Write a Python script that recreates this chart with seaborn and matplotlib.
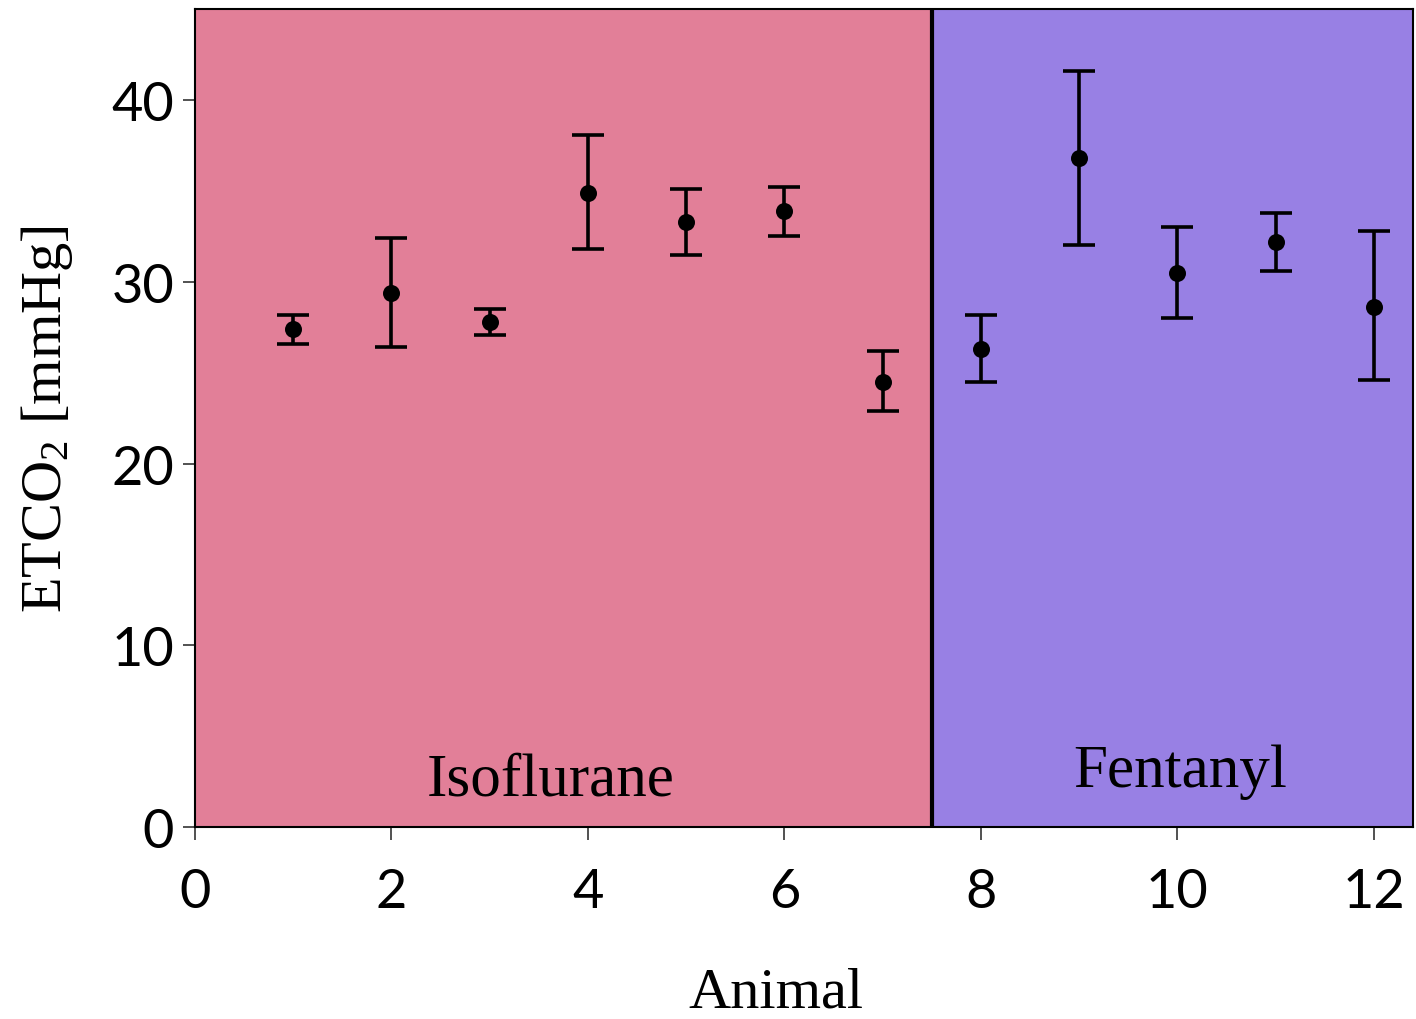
import matplotlib
matplotlib.use("Agg")
import matplotlib.pyplot as plt
import seaborn as sns
import numpy as np
import pandas as pd

animals = [1, 2, 3, 4, 5, 6, 7, 8, 9, 10, 11, 12]
etco2_mean = [27.4, 29.4, 27.8, 34.9, 33.3, 33.9, 24.5, 26.3, 36.8, 30.5, 32.2, 28.6]
etco2_low = [26.6, 26.4, 27.1, 31.8, 31.5, 32.5, 22.9, 24.5, 32.0, 28.0, 30.6, 24.6]
etco2_high = [28.2, 32.4, 28.5, 38.1, 35.1, 35.2, 26.2, 28.2, 41.6, 33.0, 33.8, 32.8]
groups = ["Isoflurane", "Fentanyl"]
group_colors = ["#E27F98", "#9880E4"]

df = pd.DataFrame({"Animal": animals, "ETCO2": etco2_mean})

sns.set_style("ticks")
tick_font = "Lato"
serif_font = "Liberation Serif"
plt.rcParams["text.color"] = "black"
plt.rcParams["axes.labelcolor"] = "black"
plt.rcParams["xtick.color"] = "black"
plt.rcParams["ytick.color"] = "black"
plt.rcParams["mathtext.fontset"] = "custom"
plt.rcParams["mathtext.rm"] = serif_font
plt.rcParams["mathtext.it"] = serif_font

fig = plt.figure(figsize=(14.16, 10.20), dpi=100)
ax = fig.add_axes([0.1377, 0.1882, 0.8603, 0.8018])

ax.axvspan(0, 7.5, color=group_colors[0], zorder=0, lw=0)
ax.axvspan(7.5, 12.4, color=group_colors[1], zorder=0, lw=0)
ax.axvline(7.5, color="black", lw=3.0, zorder=1)

mean = np.array(etco2_mean)
yerr = np.vstack([mean - np.array(etco2_low), np.array(etco2_high) - mean])
ax.errorbar(animals, mean, yerr=yerr, fmt="none", ecolor="black",
            elinewidth=2.6, capsize=11.5, capthick=2.6, zorder=3)
sns.scatterplot(data=df, x="Animal", y="ETCO2", ax=ax, color="black",
                s=150, edgecolor="black", linewidth=0, zorder=4, legend=False)

ax.set_xlim(0, 12.4)
ax.set_ylim(0, 45)
ax.set_xticks([0, 2, 4, 6, 8, 10, 12])
ax.set_yticks([0, 10, 20, 30, 40])
for lab in ax.get_xticklabels() + ax.get_yticklabels():
    lab.set_fontfamily(tick_font)
    lab.set_fontsize(39)
    lab.set_color("black")
ax.tick_params(axis="both", direction="out", length=9, width=1.2, color="#333333", pad=6)
ax.tick_params(axis="x", pad=20)

for sp in ax.spines.values():
    sp.set_visible(True)
    sp.set_linewidth(1.5)
    sp.set_color("black")

ax.set_xlabel("Animal", fontfamily=serif_font, fontsize=42, labelpad=36, color="black")
ax.xaxis.label.set_x(0.477)
ax.set_ylabel(r"ETCO$_2$ [mmHg]", fontfamily=serif_font, fontsize=42, labelpad=26, color="black")

ax.text(3.62, 1.8, groups[0], fontfamily=serif_font, fontsize=44, ha="center", va="baseline", zorder=5, color="black")
ax.text(10.03, 2.25, groups[1], fontfamily=serif_font, fontsize=44, ha="center", va="baseline", zorder=5, color="black")

fig.savefig("out.png", dpi=100)
